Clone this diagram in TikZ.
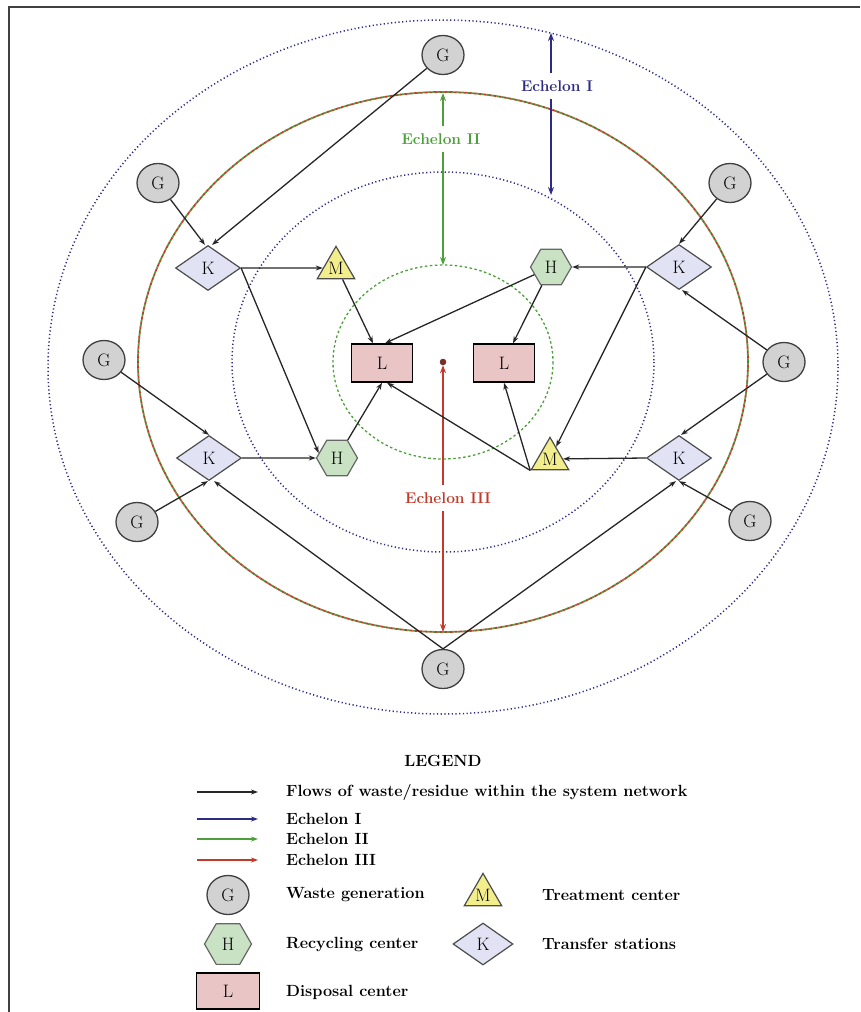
\documentclass[tikz,border=0pt]{standalone}
\usetikzlibrary{shapes.geometric,arrows.meta}
\definecolor{ebl}{HTML}{2E2B85}
\definecolor{egr}{HTML}{4C9F3A}
\definecolor{erd}{HTML}{C33A2A}
\definecolor{gfill}{HTML}{D2D2D2}
\definecolor{kfill}{HTML}{E1E3F4}
\definecolor{mfill}{HTML}{F3EE8C}
\definecolor{hfill}{HTML}{C9E2C3}
\definecolor{lfill}{HTML}{EAC5C5}
\tikzset{
 lbl/.style={font=\fontsize{18}{20}\selectfont},
 gnode/.style={ellipse, draw=black!75, line width=1.3pt, fill=gfill, minimum width=42pt, minimum height=39pt, inner sep=0pt, lbl},
 knode/.style={diamond, draw=black!70, line width=1.2pt, fill=kfill, minimum width=65pt, minimum height=45pt, aspect=1.44, inner sep=0pt, lbl},
 mnode/.style={regular polygon, regular polygon sides=3, draw=black!70, line width=1.2pt, fill=mfill, minimum size=42pt, inner sep=0pt, lbl},
 hnode/.style={regular polygon, regular polygon sides=6, draw=black!60, line width=1.2pt, fill=hfill, minimum size=41pt, inner sep=0pt, lbl},
 lnode/.style={rectangle, draw=black, line width=1.5pt, fill=lfill, minimum width=61pt, minimum height=38pt, inner sep=0pt, lbl},
 flow/.style={draw=black!85, line width=1.3pt, -{Stealth[length=7pt,width=5pt]}},
 echtext/.style={font=\fontsize{15.5}{18}\selectfont\bfseries, inner xsep=2pt, inner ysep=7pt},
 ech1/.style={draw=ebl, line width=1.4pt, -{Stealth[length=8pt,width=6pt]}},
 ech2/.style={draw=egr, line width=1.4pt, -{Stealth[length=8pt,width=6pt]}},
 ech3/.style={draw=erd, line width=1.4pt, -{Stealth[length=8pt,width=6pt]}},
 legtext/.style={anchor=west, font=\fontsize{16.2}{19}\selectfont\bfseries, inner sep=0pt},
 framel/.style={draw=black!75, line width=2pt},
}
\begin{document}
\begin{tikzpicture}[x=1pt,y=-1pt]
\useasboundingbox (0,0) rectangle (860,1012);
\draw[framel] (8.5,1012) -- (8.5,6.5) -- (860,6.5);

% rings
\draw[ebl, line width=1.5pt, dash pattern=on 1.2pt off 2.5pt] (443,367) ellipse [x radius=395, y radius=347];
\draw[egr, line width=1.8pt, dash pattern=on 2.5pt off 2.5pt] (443,362) ellipse [x radius=305, y radius=270];
\draw[erd, line width=1.8pt, dash pattern=on 2.5pt off 2.5pt, dash phase=2.5pt] (443,362) ellipse [x radius=305, y radius=270];
\draw[ebl, line width=1.5pt, dash pattern=on 1.2pt off 2.5pt] (443,362) ellipse [x radius=211, y radius=190];
\draw[egr, line width=1.3pt, dash pattern=on 2.5pt off 2.5pt] (443,362) ellipse [x radius=110, y radius=97];

% echelon arrows
\node[echtext, text=ebl] (E1) at (557,86) {Echelon I};
\coordinate (E1t) at (551,33);
\coordinate (E1b) at (551,195);
\draw[ech1] (E1t |- E1.north) -- (E1t);
\draw[ech1] (E1t |- E1.south) -- (E1b);
\node[echtext, text=egr] (E2) at (441,139) {Echelon II};
\coordinate (E2t) at (443,93);
\coordinate (E2b) at (443,265);
\draw[ech2] (E2t |- E2.north) -- (E2t);
\draw[ech2] (E2t |- E2.south) -- (E2b);
\node[echtext, text=erd] (E3) at (448,498) {Echelon III};
\node[circle, fill=erd!70!black, draw=black!80, inner sep=0pt, minimum size=6pt] (dot) at (443,362) {};
\coordinate (E3b) at (443,632);
\draw[ech3] (dot |- E3.north) -- (dot.south);
\draw[ech3] (dot |- E3.south) -- (E3b);

% nodes
\node[gnode] (G1) at (443,55) {G};
\node[gnode] (G2) at (158,183) {G};
\node[gnode] (G3) at (730,183) {G};
\node[gnode] (G4) at (104,360) {G};
\node[gnode] (G5) at (784,362) {G};
\node[gnode] (G6) at (137,522) {G};
\node[gnode] (G7) at (750,521) {G};
\node[gnode] (G8) at (443,669) {G};
\node[knode] (K1) at (208,268) {K};
\node[knode] (K2) at (679,267) {K};
\node[knode] (K3) at (209,458) {K};
\node[knode] (K4) at (679,458) {K};
\node[mnode] (M1) at (336,268) {M};
\node[mnode] (M2) at (550,459) {M};
\node[hnode] (H1) at (551,267) {H};
\node[hnode] (H2) at (337,458) {H};
\node[lnode] (L1) at (382,363) {L};
\node[lnode] (L2) at (504,363) {L};

% flows
\draw[flow] (G1) -- ([xshift=4pt]K1.north);
\draw[flow] (G2) -- ([xshift=-3pt]K1.north);
\draw[flow] (K1.east) -- (M1);
\draw[flow] (K1.east) -- (H2.165);
\draw[flow] (M1.-60) -- ([xshift=-9pt]L1.north);
\draw[flow] (H1) -- ([xshift=3pt]L1.north);
\draw[flow] (H1) -- ([xshift=9pt]L2.north);
\draw[flow] (K2.west) -- (H1);
\draw[flow] (K2.west) -- (M2);
\draw[flow] (G3) -- (K2.north);
\draw[flow] (G5) -- ([xshift=3pt]K2.south);
\draw[flow] (G5) -- ([xshift=2pt]K4.north);
\draw[flow] (K4.west) -- (M2);
\draw[flow] (G7) -- (K4.south);
\draw[flow] (M2.-150) -- ([xshift=5pt]L1.south);
\draw[flow] (M2.-150) -- (L2.south);
\draw[flow] (H2) -- (L1.south);
\draw[flow] (K3.east) -- (H2);
\draw[flow] (G4) -- (K3.north);
\draw[flow] (G6) -- ([xshift=-1pt]K3.south);
\draw[flow] (G8.north) -- ([xshift=5pt]K3.south);
\draw[flow] (G8.north) -- ([xshift=-3pt]K4.south);

% legend
\node[font=\fontsize{16.2}{19}\selectfont\bfseries] (LEG) at (443,761) {LEGEND};
\coordinate (la1) at (197,792); \coordinate (lb1) at (258,792);
\coordinate (la2) at (197,819); \coordinate (lb2) at (258,819);
\coordinate (la3) at (197,839); \coordinate (lb3) at (258,839);
\coordinate (la4) at (197,860); \coordinate (lb4) at (258,860);
\draw[flow] (la1) -- (lb1);
\draw[ech1, line width=1.3pt, -{Stealth[length=7pt,width=5pt]}] (la2) -- (lb2);
\draw[ech2, line width=1.3pt, -{Stealth[length=7pt,width=5pt]}] (la3) -- (lb3);
\draw[ech3, line width=1.3pt, -{Stealth[length=7pt,width=5pt]}] (la4) -- (lb4);
\node[legtext] (t1) at (286,792) {Flows of waste/residue within the system network};
\node[legtext] (t2) at (286,819) {Echelon I};
\node[legtext] (t3) at (286,839) {Echelon II};
\node[legtext] (t4) at (286,860) {Echelon III};
\node[gnode] (lg) at (228,895) {G};
\node[legtext] (t5) at (286,895) {Waste generation};
\node[mnode, minimum size=38pt] (lm) at (483,895) {M};
\node[legtext] (t6) at (542,895) {Treatment center};
\node[hnode, minimum size=47pt] (lh) at (228,944) {H};
\node[legtext] (t7) at (286,944) {Recycling center};
\node[knode, minimum width=60pt, minimum height=42pt] (lk) at (483,944) {K};
\node[legtext] (t8) at (542,944) {Transfer stations};
\node[lnode, minimum width=63pt, minimum height=36pt] (ll) at (228,991) {L};
\node[legtext] (t9) at (286,992) {Disposal center};
\end{tikzpicture}
\end{document}
